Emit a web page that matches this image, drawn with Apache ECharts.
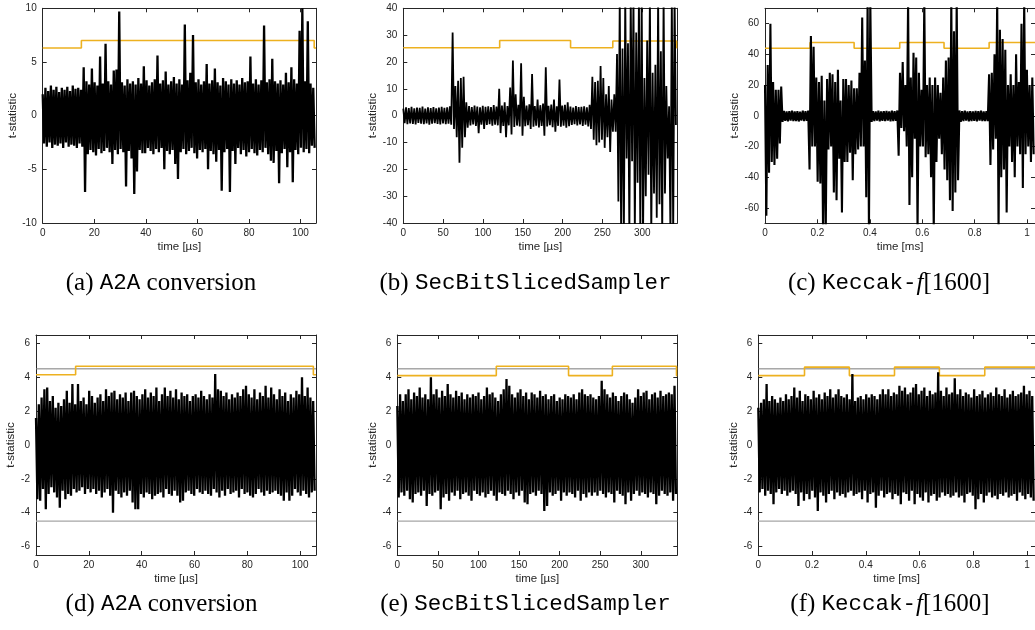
<!DOCTYPE html>
<html><head><meta charset="utf-8">
<script src="https://cdn.jsdelivr.net/npm/echarts@6/dist/echarts.min.js"></script>
<style>html,body{margin:0;padding:0;background:#fff}#c{width:1035px;height:630px}</style>
</head><body><div id="c"></div>
<script>
// ---------- data (t-statistic traces: per-sample-bin maxima / minima) ----------
// (a) A2A conversion, fixed vs random, time in µs
const A_DT = 1.06;
const A_HI = [2.0,2.6,2.3,2.8,2.4,2.7,2.2,2.6,2.4,2.7,
 2.3,2.8,2.5,2.6,2.4,4.5,3.2,2.9,4.4,3.1,
 2.8,5.5,3.0,6.7,3.2,2.9,4.2,4.3,9.7,3.1,
 2.8,3.4,3.0,3.2,2.9,3.5,3.0,4.6,3.3,2.8,
 3.1,3.4,5.6,3.0,3.3,4.1,2.9,3.2,3.6,3.0,
 3.4,2.9,8.5,3.3,4.0,7.5,3.1,3.4,2.9,3.2,
 4.8,3.0,3.3,4.4,3.1,2.8,3.5,3.2,2.9,3.4,
 3.0,3.3,2.9,3.5,3.1,3.2,5.5,3.0,3.4,2.9,
 3.3,8.4,3.1,3.4,5.3,3.2,3.0,3.3,2.9,4.0,
 3.1,4.5,3.4,3.0,7.9,10,3.2,8.8,3.0,2.6];
const A_LO = [-2.6,-2.9,-2.5,-3.0,-2.7,-2.8,-2.6,-3.0,-2.5,-2.9,
 -2.7,-2.8,-3.0,-2.6,-2.9,-7.1,-3.6,-3.2,-3.4,-3.7,
 -3.1,-3.5,-3.3,-3.0,-3.4,-4.5,-3.2,-3.6,-3.1,-3.4,
 -6.6,-3.3,-4.0,-7.3,-5.2,-3.2,-3.5,-3.5,-3.0,-3.3,
 -3.6,-3.1,-3.4,-3.0,-5.0,-3.3,-3.6,-3.2,-4.5,-5.9,
 -3.4,-3.1,-3.6,-3.3,-3.0,-3.5,-4.0,-3.2,-3.4,-3.1,
 -5.0,-3.3,-3.6,-4.3,-3.2,-7.0,-3.4,-3.1,-7.1,-3.3,
 -4.5,-3.0,-3.6,-3.2,-3.8,-3.4,-3.1,-3.5,-3.7,-3.2,
 -3.4,-3.0,-3.6,-4.2,-4.4,-3.3,-6.3,-3.5,-3.1,-4.8,
 -3.4,-6.2,-3.2,-3.6,-3.0,-3.4,-3.1,-3.5,-2.8,-3.0];
const A_THR_T = [0, 15, 105.3, 106];
const A_THR_V = [6.3, 7.0, 6.3, 6.3];

// (b) SecBitSlicedSampler, time in µs
const B_DT = 3.44;
const B_HI = [2.6,3.1,2.8,3.3,2.7,3.0,2.9,3.4,2.6,3.1,2.8,3.2,2.7,3.0,3.3,2.9,3.1,3.5,
 31,11,13,14,14.5,5,
 3.6,3.2,3.8,3.4,3.1,3.7,3.3,3.5,3.2,3.9,3.4,
 10,3.8,5,3.6,10.5,20.5,8,4,19.5,7,3.8,4.2,15.5,3.6,6,3.9,4.5,18,3.7,4.1,6,3.5,13.5,3.8,4.0,5,
 3.4,3.0,3.6,3.2,3.3,3.5,3.1,4.0,
 14.5,12.5,13,18.5,14,8,11,6,
 8,23,45,25,45,27,45,45,31,45,45,14,28,45,16,19,45,24,45,11,3.5,45,45];
const B_LO = [-2.8,-3.2,-2.9,-3.1,-3.3,-2.7,-3.0,-3.2,-2.9,-3.4,-3.0,-2.8,-3.1,-3.3,-2.9,-3.2,-3.0,-3.4,
 -5,-8,-17.5,-12,-8,-4.5,
 -3.6,-3.3,-3.8,-6.5,-3.4,-5.0,-3.5,-3.2,-3.7,-3.4,-3.6,
 -6.5,-3.8,-8.0,-3.6,-7.0,-4.2,-3.7,-4.0,-7.5,-3.9,-3.6,-5.0,-4.1,-3.7,-4.4,-3.8,-7.5,-4.0,-3.6,-4.3,-6.0,-3.8,-4.1,-3.7,-4.5,-3.9,
 -3.5,-3.2,-3.6,-3.3,-3.8,-3.4,-4.0,-5.0,
 -9,-11,-10,-9,-12,-8,-13.5,-6,
 -6,-32,-45,-45,-16,-45,-17,-45,-25,-45,-45,-30,-22,-45,-29,-38,-33,-45,-29,-16,-45,-45,-3.5];
const B_THR_T = [0, 121, 210, 263, 343, 344];
const B_THR_V = [25.3, 28.0, 25.3, 27.8, 25.3, 25.3];

// (c) Keccak-f[1600], time in ms
const C_DT = 0.0103;
const C_HI = [20,33,60,22,17,17,19,
 3.2,2.8,3.0,3.4,2.9,3.1,2.7,3.3,3.0,3.4,
 52,45,25,22,26,10,24,28,27,22,30,10,24,24,20,23,18,18,28,64,36,75,75,
 3.1,2.9,3.3,2.8,3.0,3.2,2.9,3.4,3.0,
 3.5,28,35,20,75,25,41,38,28,17,75,20,25,20,25,20,15,25,36,38,75,55,75,3.5,
 3.0,3.3,2.9,3.1,2.8,3.2,3.0,3.4,2.9,3.1,
 27,28,40,75,56,50,43,20,27,20,40,22,60,75,30,20,25];
const C_LO = [-65,-37,-30,-32,-28,-18,-4,
 -3.3,-3.6,-3.2,-3.5,-3.4,-3.7,-3.2,-3.5,-3.3,
 -35,-20,-20,-43,-44,-75,-75,-22,-20,-50,-55,-28,-63,-30,-30,-24,-42,-25,-22,-20,-20,-53,-75,-4,
 -3.4,-3.2,-3.6,-3.3,-3.5,-3.1,-3.6,-3.4,-3.3,
 -26,-8,-10,-20,-58,-40,-15,-75,-20,-20,-27,-25,-40,-75,-30,-15,-25,-35,-42,-55,-62,-50,-42,-4,
 -3.5,-3.2,-3.6,-3.4,-3.3,-3.7,-3.2,-3.5,-3.4,-3.5,
 -32,-22,-15,-75,-40,-35,-63,-20,-30,-40,-20,-25,-47,-25,-20,-30,-25];
const C_THR_T = [0, 0.172, 0.34, 0.514, 0.683, 0.855, 1.03];
const C_THR_V = [44, 47.7, 44, 47.7, 44, 47.7, 47.7];

// (d) A2A conversion, random vs random
const D_DT = 1.06;
const D_HI = [1.6,2.4,2.8,3.3,3.4,2.6,2.9,2.2,2.5,2.3,
 2.7,3.2,2.5,3.6,2.4,3.6,2.6,2.8,2.4,3.2,
 2.9,2.5,2.8,3.0,2.6,3.3,2.9,3.1,3.2,2.7,
 3.0,2.8,3.1,2.6,3.1,3.2,2.9,2.7,3.0,3.3,
 2.8,3.1,2.9,3.4,2.6,3.0,3.4,2.9,3.2,2.8,
 3.3,2.7,3.1,2.9,3.0,2.6,2.9,3.0,2.8,3.2,
 2.9,2.7,3.0,2.8,4.2,3.3,3.2,2.9,3.1,2.7,
 3.0,2.8,3.1,2.9,3.3,3.5,3.0,2.8,3.3,2.7,
 3.1,2.9,3.5,2.8,3.4,3.0,2.7,3.3,2.9,3.1,
 2.6,3.0,2.8,3.2,3.0,4.0,2.9,3.4,2.8,2.6];
const D_LO = [-3.2,-3.3,-2.6,-3.8,-2.9,-2.5,-2.8,-3.1,-3.7,-2.7,
 -3.2,-2.9,-3.0,-2.6,-2.8,-2.7,-2.5,-2.9,-2.6,-2.8,
 -2.6,-2.9,-2.7,-3.1,-2.8,-2.6,-3.0,-4.0,-2.7,-2.9,
 -3.1,-2.8,-3.0,-2.7,-3.4,-3.8,-3.8,-2.9,-3.1,-2.8,
 -2.9,-3.2,-3.0,-2.9,-2.8,-3.1,-2.6,-2.9,-3.0,-2.7,
 -3.0,-3.4,-3.3,-2.8,-2.7,-2.9,-3.0,-2.6,-2.8,-2.9,
 -2.7,-2.9,-3.0,-2.6,-2.8,-3.1,-2.7,-3.0,-2.6,-2.9,
 -2.8,-2.7,-3.1,-2.6,-2.9,-2.8,-3.0,-3.1,-2.9,-2.6,
 -2.8,-3.0,-2.7,-2.9,-2.8,-2.7,-2.9,-3.0,-3.3,-2.8,
 -3.3,-3.0,-2.6,-2.8,-3.0,-2.7,-2.9,-3.1,-2.8,-2.7];
const D_THR_T = [0, 15, 105, 106];
const D_THR_V = [4.15, 4.65, 4.15, 4.15];

// (e) SecBitSlicedSampler, random vs random
const E_DT = 3.45;
const E_HI = [2.3,3.0,2.6,3.0,3.3,2.7,3.1,2.9,3.4,2.8,
 3.0,2.7,4.0,3.0,3.3,2.8,3.2,2.9,3.6,3.0,
 2.8,3.2,2.9,3.1,2.7,3.0,2.8,3.0,2.9,3.1,
 2.7,2.9,3.4,3.0,3.1,2.8,2.6,3.0,3.3,3.9,
 3.5,3.0,2.8,3.1,3.3,2.9,3.1,2.7,3.1,3.0,
 2.8,3.2,2.9,3.0,2.7,2.9,3.0,2.6,2.8,2.7,
 3.0,2.9,2.8,3.0,2.7,3.1,3.3,3.0,2.9,3.0,
 2.8,2.7,2.9,3.8,3.3,3.0,2.8,3.1,2.9,2.6,
 2.9,3.1,3.0,2.7,2.5,2.8,3.3,2.9,3.1,3.2,
 2.7,3.0,3.1,2.8,3.2,2.9,3.0,3.1,3.0,3.5];
const E_LO = [-3.1,-2.8,-3.0,-2.7,-3.2,-3.4,-2.9,-2.8,-3.0,-2.7,
 -3.6,-2.9,-3.0,-2.8,-2.7,-3.8,-3.1,-2.9,-3.3,-2.8,
 -3.0,-2.7,-3.2,-2.9,-2.8,-3.0,-3.3,-2.7,-2.9,-3.0,
 -2.8,-3.1,-2.9,-2.7,-3.0,-3.3,-2.8,-2.9,-3.0,-2.7,
 -2.9,-3.2,-2.8,-3.0,-2.7,-3.4,-3.5,-2.9,-2.8,-3.0,
 -2.7,-2.9,-3.9,-3.6,-2.8,-3.0,-2.9,-2.7,-3.3,-2.8,
 -3.0,-2.8,-2.9,-3.1,-2.7,-3.3,-2.9,-3.1,-2.8,-3.0,
 -2.8,-3.0,-2.7,-2.9,-3.1,-2.8,-2.9,-3.4,-2.7,-2.9,
 -3.0,-3.5,-2.8,-3.3,-2.9,-2.7,-3.0,-2.8,-2.9,-3.1,
 -2.8,-2.9,-3.5,-3.0,-2.7,-2.9,-3.0,-2.8,-3.3,-2.9];
const E_THR_T = [0, 122, 211, 265, 344, 345];
const E_THR_V = [4.1, 4.65, 4.1, 4.65, 4.1, 4.1];

// (f) Keccak-f[1600], random vs random
const F_DT = 0.0103;
const F_HI = [2.2,2.5,2.7,3.6,2.6,2.9,2.7,2.5,2.8,2.6,
 3.0,2.7,2.9,3.4,2.8,3.2,2.6,3.0,2.9,2.7,
 3.2,2.8,3.0,2.7,3.1,2.9,3.3,2.8,3.0,3.3,
 2.9,2.8,3.0,2.7,4.2,2.6,2.8,2.9,2.7,3.0,
 2.8,3.0,2.9,2.7,3.0,3.3,3.0,3.3,2.9,3.1,
 3.0,3.5,3.2,3.4,3.0,3.1,3.4,3.6,3.0,3.2,
 3.4,2.9,3.2,3.0,3.1,4.3,3.2,2.9,3.4,3.0,
 3.1,3.95,3.0,3.3,2.9,3.1,3.0,2.8,3.3,2.9,
 3.0,3.2,2.8,3.0,3.1,2.9,3.4,3.0,2.9,3.3,
 2.8,3.0,3.2,2.9,3.0,3.1,3.5,3.0,3.2,2.9];
const F_LO = [-2.8,-2.6,-3.0,-2.7,-2.9,-3.5,-2.8,-2.6,-2.9,-2.7,
 -3.0,-2.8,-2.7,-2.9,-3.6,-2.8,-3.3,-2.9,-3.2,-2.7,
 -3.1,-3.9,-2.8,-3.0,-3.4,-2.9,-2.7,-3.2,-2.8,-3.0,
 -2.9,-3.1,-2.8,-2.7,-3.0,-2.9,-2.8,-3.2,-2.7,-3.4,
 -2.9,-2.8,-3.7,-3.0,-2.7,-3.1,-2.9,-2.8,-3.2,-2.9,
 -3.0,-3.5,-2.8,-2.9,-3.3,-2.7,-3.5,-2.9,-3.1,-3.3,
 -2.8,-3.4,-3.0,-2.9,-3.3,-3.1,-2.8,-3.0,-2.9,-3.1,
 -3.0,-2.8,-3.1,-3.0,-3.4,-2.9,-2.8,-3.0,-3.8,-3.2,
 -2.9,-3.4,-3.0,-2.8,-3.1,-3.0,-3.2,-2.9,-3.0,-2.8,
 -3.1,-3.0,-2.9,-3.3,-2.8,-3.0,-3.2,-2.9,-3.1,-3.3];
const F_THR_T = [0, 0.172, 0.339, 0.507, 0.674, 0.843, 1.03];
const F_THR_V = [4.1, 4.6, 4.1, 4.6, 4.1, 4.6, 4.6];

// axis ranges / ticks
const US_TICKS_A = [0, 20, 40, 60, 80, 100];
const US_TICKS_B = [0, 50, 100, 150, 200, 250, 300];
const MS_TICKS = [0, 0.2, 0.4, 0.6, 0.8, 1];
const Y_TICKS_A = [-10, -5, 0, 5, 10];
const Y_TICKS_B = [-40, -30, -20, -10, 0, 10, 20, 30, 40];
const Y_TICKS_C = [-60, -40, -20, 0, 20, 40, 60];
const Y_TICKS_RR = [-6, -4, -2, 0, 2, 4, 6];
const TVLA_LIMIT = 4.5;

const CAPTIONS = [
  ['(a) ', 'A2A', ' conversion'],
  ['(b) ', 'SecBitSlicedSampler', ''],
  ['(c) ', 'Keccak-', 'f', '[1600]'],
  ['(d) ', 'A2A', ' conversion'],
  ['(e) ', 'SecBitSlicedSampler', ''],
  ['(f) ', 'Keccak-', 'f', '[1600]']
];

// ---------- panels ----------
const PANELS = [
  {dt:A_DT, hi:A_HI, lo:A_LO, tt:A_THR_T, tv:A_THR_V, xmax:106, xt:US_TICKS_A, unit:'time [µs]', ymin:-10, ymax:10, yt:Y_TICKS_A, limit:false,
   box:{left:42.7, top:8.3, width:273.3, height:214.7}, yGap:23, lw:2.3},
  {dt:B_DT, hi:B_HI, lo:B_LO, tt:B_THR_T, tv:B_THR_V, xmax:344, xt:US_TICKS_B, unit:'time [µs]', ymin:-40, ymax:40, yt:Y_TICKS_B, limit:false,
   box:{left:403.3, top:8.3, width:274, height:214.7}, yGap:22, lw:1.8},
  {dt:C_DT, hi:C_HI, lo:C_LO, tt:C_THR_T, tv:C_THR_V, xmax:1.03, xt:MS_TICKS, unit:'time [ms]', ymin:-70, ymax:70, yt:Y_TICKS_C, limit:false,
   box:{left:765, top:8.3, width:274, height:215}, yGap:22, lw:2.1},
  {dt:D_DT, hi:D_HI, lo:D_LO, tt:D_THR_T, tv:D_THR_V, xmax:106, xt:US_TICKS_A, unit:'time [µs]', ymin:-6.5, ymax:6.5, yt:Y_TICKS_RR, limit:true,
   box:{left:36, top:335, width:280, height:220}, yGap:17, lw:2.3},
  {dt:E_DT, hi:E_HI, lo:E_LO, tt:E_THR_T, tv:E_THR_V, xmax:345, xt:US_TICKS_B, unit:'time [µs]', ymin:-6.5, ymax:6.5, yt:Y_TICKS_RR, limit:true,
   box:{left:397.3, top:335, width:280, height:220}, yGap:16, lw:2.3},
  {dt:F_DT, hi:F_HI, lo:F_LO, tt:F_THR_T, tv:F_THR_V, xmax:1.03, xt:MS_TICKS, unit:'time [ms]', ymin:-6.5, ymax:6.5, yt:Y_TICKS_RR, limit:true,
   box:{left:758.3, top:335, width:280, height:220}, yGap:16, lw:2.3}
];
const CAP_POS = [[161,283],[525.5,283],[889,283],[161.5,604],[525.5,604],[890,604]];

const AX = '#262626';
const FONT = 'Liberation Sans, Arial, sans-serif';
const SERIF = 'Liberation Serif, DejaVu Serif, serif';
const MONO = 'Liberation Mono, DejaVu Sans Mono, monospace';
const fmt = v => String(+(+v).toFixed(2));

const grid = [], xAxis = [], yAxis = [], series = [], graphic = [];
PANELS.forEach((p, k) => {
  grid.push(Object.assign({containLabel:false}, p.box));
  const common = {gridIndex:k, type:'value', splitLine:{show:false},
    axisLine:{show:true, onZero:false, lineStyle:{color:AX, width:1}}};
  xAxis.push(Object.assign({}, common, {position:'bottom', min:0, max:p.xmax,
    name:p.unit, nameLocation:'middle', nameGap:18,
    nameTextStyle:{color:AX, fontSize:11.5, fontFamily:FONT},
    axisTick:{inside:true, length:4, lineStyle:{color:AX}, customValues:p.xt},
    axisLabel:{color:AX, fontSize:10, fontFamily:FONT, margin:5, customValues:p.xt, formatter:fmt}}));
  xAxis.push(Object.assign({}, common, {position:'top', min:0, max:p.xmax,
    axisTick:{inside:true, length:4, lineStyle:{color:AX}, customValues:p.xt},
    axisLabel:{show:false, customValues:p.xt}}));
  yAxis.push(Object.assign({}, common, {position:'left', min:p.ymin, max:p.ymax,
    name:'t-statistic', nameLocation:'middle', nameGap:p.yGap, nameRotate:90,
    nameTextStyle:{color:AX, fontSize:11.5, fontFamily:FONT},
    axisTick:{inside:true, length:4, lineStyle:{color:AX}, customValues:p.yt},
    axisLabel:{color:AX, fontSize:10, fontFamily:FONT, margin:6, customValues:p.yt, formatter:fmt}}));
  yAxis.push(Object.assign({}, common, {position:'right', min:p.ymin, max:p.ymax,
    axisTick:{inside:true, length:4, lineStyle:{color:AX}, customValues:p.yt},
    axisLabel:{show:false, customValues:p.yt}}));

  // threshold (orange step)
  series.push({type:'line', xAxisIndex:2*k, yAxisIndex:2*k, step:'end', showSymbol:false, silent:true,
    animation:false, clip:true, z:2,
    lineStyle:{color:'#EDB120', width:1.6},
    data:p.tt.map((t,i)=>[t, p.tv[i]])});
  // TVLA limits
  if (p.limit) {
    series.push({type:'line', xAxisIndex:2*k, yAxisIndex:2*k, showSymbol:false, silent:true, animation:false, z:1,
      lineStyle:{color:'#7a7a7a', width:1}, data:[[0, TVLA_LIMIT],[p.xmax, TVLA_LIMIT]]});
    series.push({type:'line', xAxisIndex:2*k, yAxisIndex:2*k, showSymbol:false, silent:true, animation:false, z:1,
      lineStyle:{color:'#a6a6a6', width:1.4}, data:[[0, -TVLA_LIMIT],[p.xmax, -TVLA_LIMIT]]});
  }
  // trace (max / min per sample bin)
  const pts = [];
  p.hi.forEach((h, i) => { pts.push([i*p.dt, h]); pts.push([(i+0.5)*p.dt, p.lo[i]]); });
  series.push({type:'line', xAxisIndex:2*k, yAxisIndex:2*k, showSymbol:false, silent:true, animation:false,
    clip:true, sampling:null, z:3, lineStyle:{color:'#000', width:p.lw, join:'bevel'}, data:pts});

  // caption
  const c = CAPTIONS[k];
  let text;
  if (c.length === 4) text = '{s|' + c[0] + '}{m|' + c[1] + '}{i|' + c[2] + '}{s|' + c[3] + '}';
  else text = '{s|' + c[0] + '}{m|' + c[1] + '}' + (c[2] ? '{s|' + c[2] + '}' : '');
  graphic.push({type:'text', x:CAP_POS[k][0], y:CAP_POS[k][1], silent:true,
    style:{text:text, align:'center', verticalAlign:'middle', fill:'#000',
      rich:{
        s:{fontFamily:SERIF, fontSize:25, fill:'#000'},
        i:{fontFamily:SERIF, fontStyle:'italic', fontSize:25, fill:'#000'},
        m:{fontFamily:MONO, fontSize:22.5, fill:'#000'}
      }}});
});

const chart = echarts.init(document.getElementById('c'), null, {renderer:'canvas'});
chart.setOption({animation:false, backgroundColor:'#fff', grid, xAxis, yAxis, series, graphic});
</script>
</body></html>
